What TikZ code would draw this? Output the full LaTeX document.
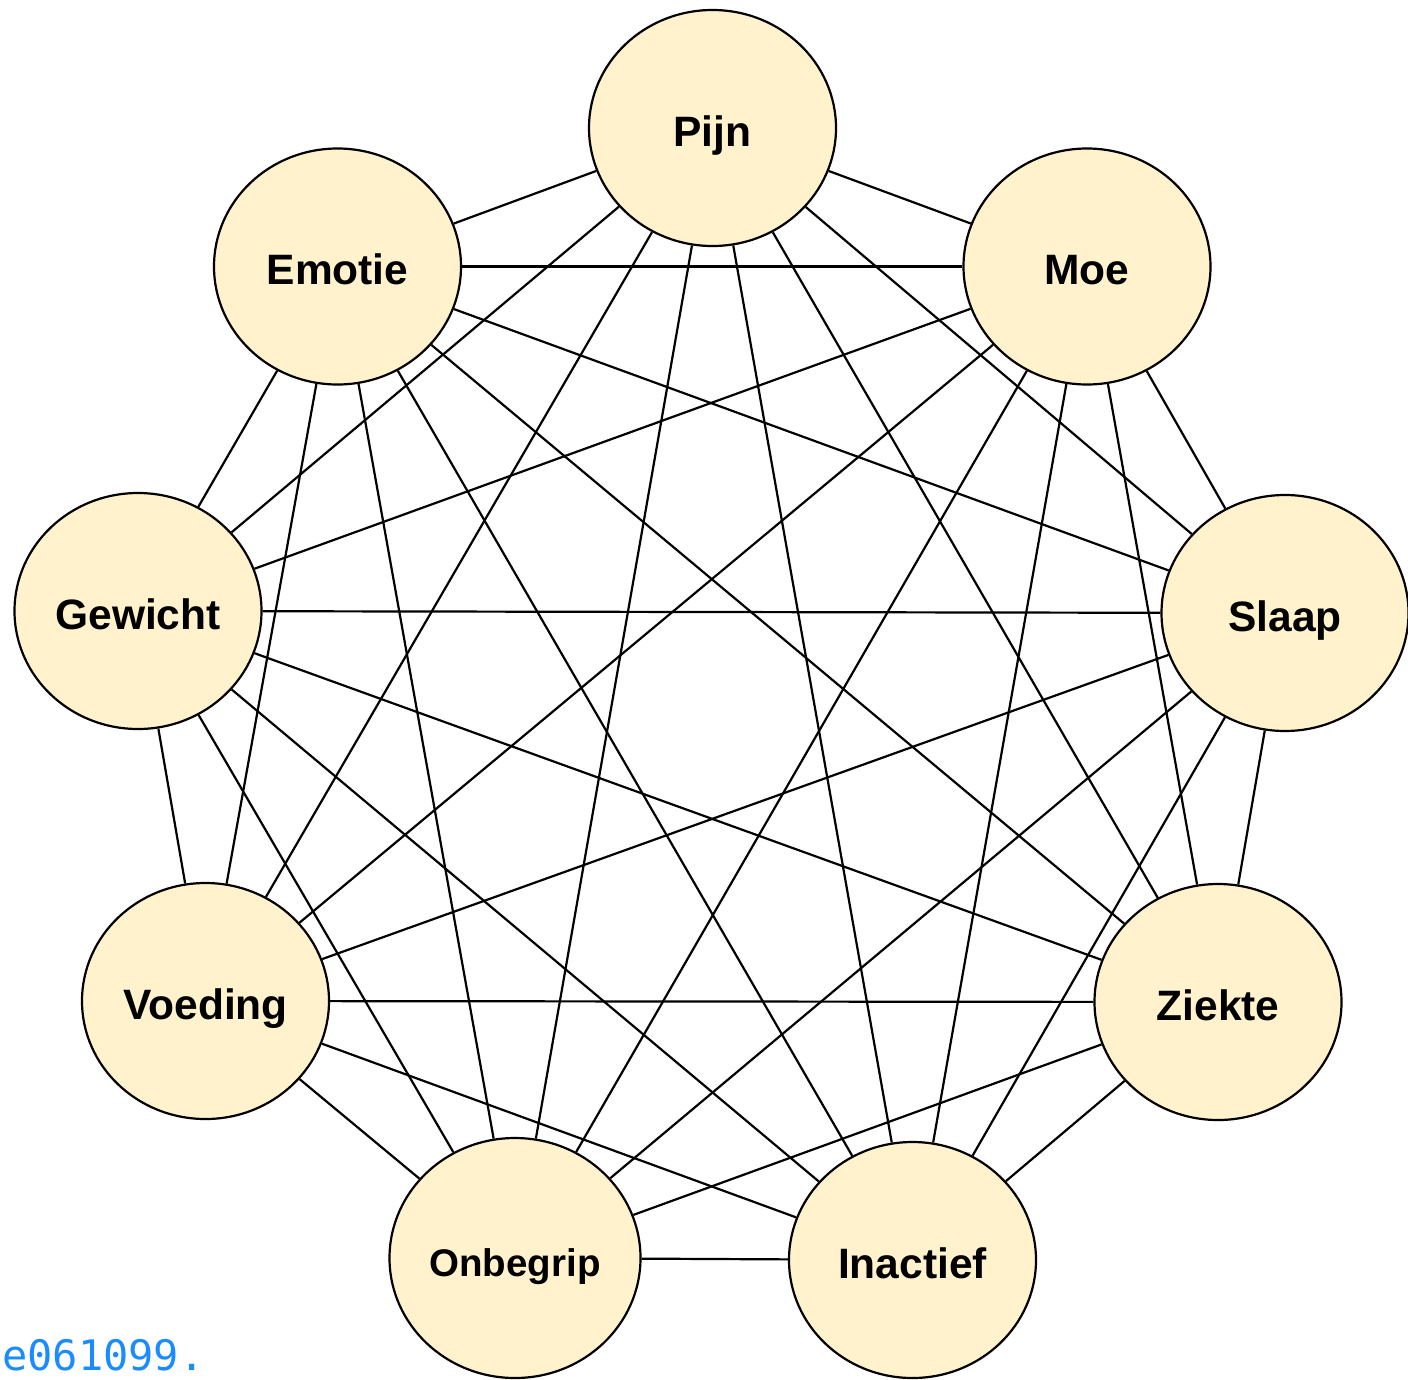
\documentclass[tikz,border=0pt]{standalone}
\usepackage{fontspec}
\setmainfont{Liberation Sans}
\newfontfamily\codefont{DejaVu Sans Mono}
\usetikzlibrary{shapes.geometric}
\definecolor{nodefill}{HTML}{FFF2CC}
\definecolor{codeblue}{HTML}{1A8CFF}
\newcommand{\lbl}[1]{\makebox[0pt]{#1}}
\tikzset{
  bubble/.style={ellipse, draw=black, line width=2.2pt, fill=nodefill,
    minimum width=247pt, minimum height=236pt, inner sep=0pt,
    text height=44pt, text depth=8pt,
    font=\fontsize{42.5}{48}\selectfont\bfseries},
  link/.style={draw=black, line width=2.2pt}
}
\begin{document}
\begin{tikzpicture}[x=1pt,y=-1pt]
\useasboundingbox (0,0) rectangle (1408,1379);
\coordinate (cP) at (712.5,128);
\coordinate (cE) at (337.5,266.5);
\coordinate (cM) at (1087,266.5);
\coordinate (cG) at (138,611);
\coordinate (cS) at (1285,613);
\coordinate (cV) at (205.5,1001);
\coordinate (cZ) at (1218,1002);
\coordinate (cO) at (515,1258);
\coordinate (cI) at (912.5,1260);
\node[bubble] (P) at (cP) {\lbl{Pijn}};
\node[bubble] (E) at (cE) {\lbl{Emotie}};
\node[bubble] (M) at (cM) {\lbl{Moe}};
\node[bubble] (G) at (cG) {\lbl{Gewicht}};
\node[bubble] (S) at (cS) {\lbl{Slaap}};
\node[bubble] (V) at (cV) {\lbl{Voeding}};
\node[bubble] (Z) at (cZ) {\lbl{Ziekte}};
\node[bubble, minimum width=251pt, minimum height=240pt,
  font=\fontsize{38.5}{44}\selectfont\bfseries] (O) at (cO) {\lbl{Onbegrip}};
\node[bubble] (I) at (cI) {\lbl{Inactief}};
\foreach \a/\b in {P/E,P/M,P/G,P/S,P/V,P/Z,P/O,P/I,
                   E/M,E/G,E/S,E/V,E/Z,E/O,E/I,
                   M/G,M/S,M/V,M/Z,M/O,M/I,
                   G/S,G/V,G/Z,G/O,G/I,
                   S/V,S/Z,S/O,S/I,
                   V/Z,V/O,V/I,
                   Z/O,Z/I,
                   O/I}
  \draw[link] (\a) -- (\b);
\node[anchor=base west, inner sep=0pt, text=codeblue,
  font=\codefont\fontsize{42}{48}\selectfont] (code) at (2,1370) {e061099.};
\end{tikzpicture}
\end{document}
